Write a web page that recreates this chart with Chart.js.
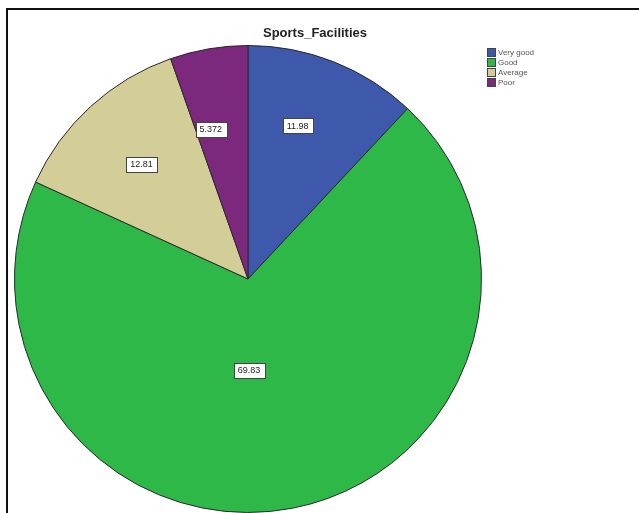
<!DOCTYPE html>
<html>
<head>
<meta charset="utf-8">
<script src="https://cdn.jsdelivr.net/npm/chart.js@4.4.0/dist/chart.umd.min.js"></script>
<style>
  html, body { margin: 0; padding: 0; background: #fff; }
  #wrap { position: relative; width: 639px; height: 513px; overflow: hidden; }
  #frame { position: absolute; left: 6px; top: 8px; right: -4px; bottom: -4px;
           border-left: 2px solid #111; border-top: 2px solid #111; }
  canvas { position: absolute; left: 0; top: 0; }
</style>
</head>
<body>
<div id="wrap">
  <div id="frame"></div>
  <canvas id="pie" width="639" height="513"></canvas>
</div>
<script>
const chartTitle = 'Sports_Facilities';
const categories = ['Very good', 'Good', 'Average', 'Poor'];
const percentValues = [11.98, 69.83, 12.81, 5.372];
const valueLabels = ['11.98', '69.83', '12.81', '5.372'];

const sliceColors = ['#3E58AC', '#2EB848', '#D3CE97', '#7C287D'];
// label placement: radius fraction and angle shift (degrees) from slice middle
const labelRadius = [0.69, 0.39, 0.67, 0.66];
const labelShift = [-3.6, 10.6, -0.5, -4.3];

const decorPlugin = {
    id: 'decor',
    afterDraw(chart) {
        const ctx = chart.ctx;
        const meta = chart.getDatasetMeta(0);

        // value labels in white boxes
        ctx.save();
        ctx.font = '9px Arial, "Liberation Sans", sans-serif';
        ctx.textAlign = 'center';
        ctx.textBaseline = 'middle';
        meta.data.forEach((arc, i) => {
            const p = arc.getProps(['x', 'y', 'startAngle', 'endAngle', 'outerRadius'], true);
            const mid = (p.startAngle + p.endAngle) / 2 + labelShift[i] * Math.PI / 180;
            const r = p.outerRadius * labelRadius[i];
            const lx = p.x + Math.cos(mid) * r;
            const ly = p.y + Math.sin(mid) * r;
            const w = ctx.measureText(valueLabels[i]).width + 8;
            const h = 15;
            ctx.fillStyle = '#ffffff';
            ctx.fillRect(Math.round(lx - w / 2), Math.round(ly - h / 2), Math.round(w), h);
            ctx.strokeStyle = '#444';
            ctx.lineWidth = 1;
            ctx.strokeRect(Math.round(lx - w / 2) + 0.5, Math.round(ly - h / 2) + 0.5, Math.round(w), h);
            ctx.fillStyle = '#222';
            ctx.fillText(valueLabels[i], lx, ly + 0.5);
        });

        // title
        ctx.font = 'bold 13px Arial, "Liberation Sans", sans-serif';
        ctx.fillStyle = '#222';
        ctx.fillText(chartTitle, 315, 33);

        // legend
        ctx.textAlign = 'left';
        ctx.font = '8px Arial, "Liberation Sans", sans-serif';
        categories.forEach((c, i) => {
            const y = 48 + i * 10;
            ctx.fillStyle = sliceColors[i];
            ctx.fillRect(487, y, 9, 9);
            ctx.strokeStyle = '#444';
            ctx.strokeRect(487.5, y + 0.5, 8, 8);
            ctx.fillStyle = '#555';
            ctx.fillText(c, 498, y + 5);
        });
        ctx.restore();
    }
};

new Chart(document.getElementById('pie'), {
    type: 'pie',
    data: {
        labels: categories,
        datasets: [{
            data: percentValues,
            backgroundColor: sliceColors,
            borderColor: '#2a2a2a',
            borderWidth: 1
        }]
    },
    options: {
        responsive: false,
        animation: false,
        layout: { padding: { left: 14, right: 157, top: 45, bottom: 0 } },
        plugins: {
            legend: { display: false },
            title: { display: false },
            tooltip: { enabled: false }
        }
    },
    plugins: [decorPlugin]
});
</script>
</body>
</html>
